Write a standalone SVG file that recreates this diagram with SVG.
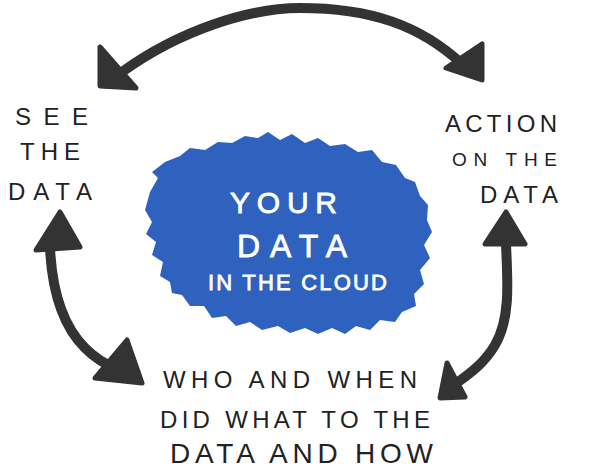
<svg xmlns="http://www.w3.org/2000/svg" width="600" height="470" viewBox="0 0 600 470">
<style>
.t{font-family:"Liberation Sans","DejaVu Sans",sans-serif;fill:#222;font-size:24px}
.w{fill:#fff;stroke:#fff;stroke-width:0.8}
.shaft{fill:none;stroke:#333;stroke-width:10;stroke-linecap:round}
.head{fill:#333;stroke:#333;stroke-width:5;stroke-linejoin:round}
</style>
<rect width="600" height="470" fill="#fff"/>
<g id="connectors">
  <path class="shaft" d="M122,72 C180,30 250,8 300,8 C370,8 420,25 462,64"/>
  <path class="head" d="M100,47 L136,88 L100,86 Z"/>
  <path class="head" d="M482,44 L482,80 L446,68 Z"/>
  <path class="shaft" d="M50,248 C52,290 62,325 85,348 C95,358 105,364 115,368"/>
  <path class="head" d="M60,212 L80,247 L36,250 Z"/>
  <path class="head" d="M127,340 L142,383 L95,378 Z"/>
  <path class="shaft" d="M506,245 C508,285 510,320 495,345 C485,362 472,372 458,382"/>
  <path class="head" d="M506,212 L525,244 L485,244 Z"/>
  <path class="head" d="M447,363 L465,397 L440,398 Z"/>
</g>
<g id="see-the-data">
  <text class="t" x="15" y="125" textLength="73" lengthAdjust="spacing">SEE</text>
  <text class="t" x="20" y="160" textLength="60" lengthAdjust="spacing">THE</text>
  <text class="t" x="8" y="200" textLength="84" lengthAdjust="spacing">DATA</text>
</g>
<g id="action-on-the-data">
  <text class="t" x="445" y="132" textLength="112" lengthAdjust="spacing">ACTION</text>
  <text class="t" x="452" y="166" textLength="105" lengthAdjust="spacing" style="font-size:19px">ON THE</text>
  <text class="t" x="480" y="203" textLength="78" lengthAdjust="spacing">DATA</text>
</g>
<g id="your-data">
  <path fill="#2E62BE" d="M145,210 L150,192 L158,178 L152,172 L165,162 L180,156 L190,148 L205,150 L218,142 L232,143 L245,136 L258,138 L268,132 L280,140 L292,134 L305,143 L318,138 L330,146 L345,144 L358,152 L372,150 L382,162 L396,165 L405,178 L415,182 L420,196 L428,205 L427,220 L432,232 L424,245 L430,258 L420,270 L424,284 L414,294 L416,306 L402,312 L395,322 L380,320 L370,330 L356,326 L345,334 L332,328 L318,334 L305,328 L290,333 L278,326 L262,330 L250,322 L236,326 L226,316 L212,318 L204,306 L190,306 L182,295 L172,293 L170,282 L160,276 L163,262 L152,255 L156,242 L146,234 L152,222 Z"/>
  <text class="t w" x="230" y="213" textLength="107" lengthAdjust="spacing" style="font-size:30px">YOUR</text>
  <text class="t w" x="237" y="257" textLength="110" lengthAdjust="spacing" style="font-size:32px">DATA</text>
  <text class="t w" x="208" y="290" textLength="179" lengthAdjust="spacing" style="font-size:22px">IN THE CLOUD</text>
</g>
<g id="who-and-when">
  <text class="t" x="163" y="388" textLength="254" lengthAdjust="spacing">WHO AND WHEN</text>
  <text class="t" x="160" y="428" textLength="270" lengthAdjust="spacing">DID WHAT TO THE</text>
  <text class="t" x="170" y="463" textLength="263" lengthAdjust="spacing" style="font-size:28px">DATA AND HOW</text>
</g>
</svg>
